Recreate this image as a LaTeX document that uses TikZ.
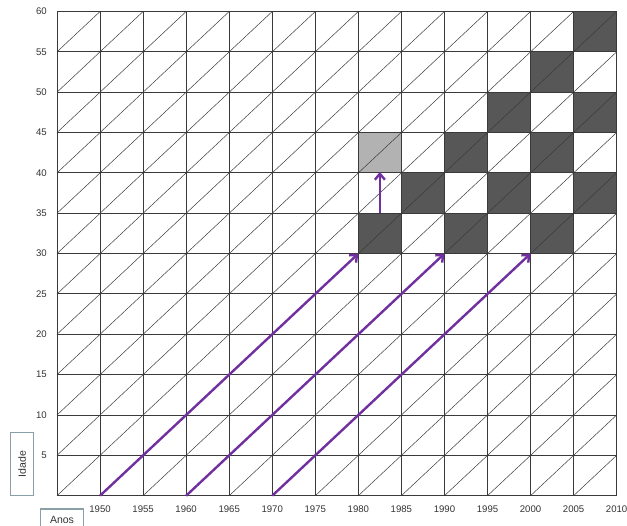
\documentclass[tikz,border=0pt]{standalone}
\usepackage{fontspec}
\setmainfont{Liberation Sans}
\usetikzlibrary{arrows.meta}
\definecolor{gridc}{HTML}{3A3A3A}
\definecolor{darkcell}{HTML}{575757}
\definecolor{lightcell}{HTML}{B2B2B2}
\definecolor{arrowc}{HTML}{7030A0}
\definecolor{boxc}{HTML}{8AA0A6}
\tikzset{
  gridline/.style={draw=gridc, line width=0.9pt},
  diagline/.style={draw=gridc, line width=0.5pt},
  darkbox/.style={fill=darkcell},
  lightbox/.style={fill=lightcell},
  cohort/.style={draw=arrowc, line width=2.4pt, -{Straight Barb[length=6pt,width=10pt,line width=2.4pt]}},
  axlabel/.style={font=\fontsize{9.6}{11}\selectfont, text=black!80, inner sep=0pt},
  titlebox/.style={draw=boxc, line width=1.6pt, fill=white, font=\fontsize{10.5}{12}\selectfont, text=black!80, inner sep=0pt}
}
\begin{document}
\begin{tikzpicture}[x=1pt,y=1pt]
\useasboundingbox (0,0) rectangle (627,526);
\begin{scope}[x=43.05pt, y=40.35pt, shift={(57pt,30.3pt)}]
  % shaded cells (column index from 1945, row index from age 0)
  \foreach \c/\r in {7/6, 8/7, 9/8, 9/6, 10/7, 10/9, 11/6, 11/8, 11/10, 12/7, 12/9, 12/11}
    \fill[darkbox] (\c,\r) rectangle ++(1,1);
  \fill[lightbox] (7,8) rectangle ++(1,1);
  % diagonals
  \foreach \c in {0,...,12}
    \foreach \r in {0,...,11}
      \draw[diagline] (\c,\r) -- ++(1,1);
  % grid
  \foreach \c in {0,...,13}
    \draw[gridline] (\c,0) -- (\c,12);
  \foreach \r in {0,...,12}
    \draw[gridline] (0,\r) -- (13,\r);
  % y labels
  \foreach \r in {1,...,12}
    \pgfmathtruncatemacro{\age}{5*\r}
    \node[axlabel, anchor=east] (age\r) at ([xshift=-10pt]0,\r) {\age};
  % x labels
  \foreach \c in {1,...,13}
    \pgfmathtruncatemacro{\yr}{1945+5*\c}
    \node[axlabel, anchor=center] (yr\c) at ([yshift=-13.5pt]\c,0) {\yr};
  % cohort coordinates
  \coordinate (s1950) at (1,0);
  \coordinate (s1960) at (3,0);
  \coordinate (s1970) at (5,0);
  \coordinate (e1980) at (7,6);
  \coordinate (e1990) at (9,6);
  \coordinate (e2000) at (11,6);
  \coordinate (v1) at (7.5,7);
  \coordinate (v2) at (7.5,8);
  \draw[cohort] (s1950) -- (e1980);
  \draw[cohort] (s1960) -- (e1990);
  \draw[cohort] (s1970) -- (e2000);
  \draw[cohort, shorten >=-1pt] (v1) -- (v2);
\end{scope}
\node[titlebox, rotate=90, minimum width=63pt, minimum height=23pt] (idade) at (22,62) {Idade};
\node[titlebox, minimum width=43pt, minimum height=21pt] (anos) at (62,6.5) {Anos};
\end{tikzpicture}
\end{document}
